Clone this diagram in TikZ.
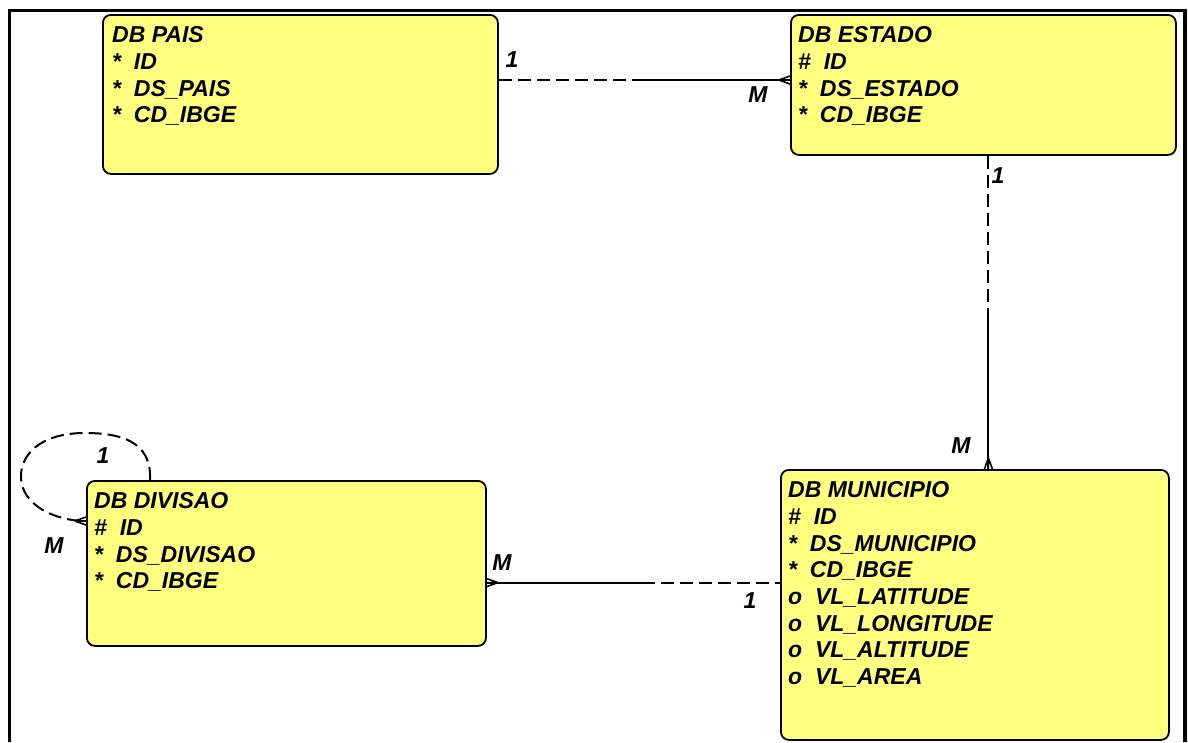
\documentclass[tikz,border=0pt]{standalone}
\usepackage{fontspec}
\setmainfont{Liberation Sans}
\usetikzlibrary{positioning}
\definecolor{entyellow}{RGB}{255,255,128}
\newcommand\entfield[2]{#1\ \ #2}
\tikzset{crow/.pic={\draw[line width=1.6pt] (11,0) -- (0,4) (11,0) -- (0,0) (11,0) -- (0,-4);}}

\begin{document}
\begin{tikzpicture}
[x=1pt, y=-1pt,
every node/.style={inner sep=0pt, font=\fontsize{23}{26.7}\selectfont\bfseries\itshape},
entity/.style={draw, line width=1.8pt, fill=entyellow, rounded corners=8pt, anchor=north west},
fields/.style={anchor=north west, align=left},
card/.style={anchor=center},
rel/.style={line width=2pt},
opt/.style={rel, dash pattern=on 13pt off 6pt}]

\useasboundingbox (0,0) rectangle (1188,742);
\draw[line width=3.5pt] (9.5,742) -- (9.5,10.5) -- (1185,10.5) -- (1185,742);

% entities
\node[entity, minimum width=395pt, minimum height=159pt] (pais) at (102,14) {};
\node[entity, minimum width=385pt, minimum height=140pt] (estado) at (790,14) {};
\node[entity, minimum width=399pt, minimum height=165pt] (div) at (86,480) {};
\node[entity, minimum width=388pt, minimum height=270pt] (mun) at (780,469) {};

\node[fields] at ([xshift=10pt, yshift=-12.5pt]pais.north west)
  {DB PAIS\\ \entfield{*}{ID}\\ \entfield{*}{DS\_PAIS}\\ \entfield{*}{CD\_IBGE}};
\node[fields] at ([xshift=8pt, yshift=-12.5pt]estado.north west)
  {DB ESTADO\\ \entfield{\#}{ID}\\ \entfield{*}{DS\_ESTADO}\\ \entfield{*}{CD\_IBGE}};
\node[fields] at ([xshift=8pt, yshift=-12.5pt]div.north west)
  {DB DIVISAO\\ \entfield{\#}{ID}\\ \entfield{*}{DS\_DIVISAO}\\ \entfield{*}{CD\_IBGE}};
\node[fields] at ([xshift=8pt, yshift=-12.5pt]mun.north west)
  {DB MUNICIPIO\\ \entfield{\#}{ID}\\ \entfield{*}{DS\_MUNICIPIO}\\ \entfield{*}{CD\_IBGE}\\
   \entfield{o}{VL\_LATITUDE}\\ \entfield{o}{VL\_LONGITUDE}\\ \entfield{o}{VL\_ALTITUDE}\\ \entfield{o}{VL\_AREA}};

% pais - estado
\path ([yshift=-66pt]pais.north east) coordinate (p1) ++(145,0) coordinate (m1);
\draw[opt] (p1) -- (m1);
\draw[rel] (m1) -- (p1 -| estado.west);
\pic[rotate=180] at (p1 -| estado.west) {crow};

% estado - municipio
\path ([xshift=5pt]estado.south) coordinate (e1) ++(0,156) coordinate (m2);
\draw[opt] (e1) -- (m2);
\draw[rel] (m2) -- (e1 |- mun.north);
\pic[rotate=90] at (e1 |- mun.north) {crow};

% divisao - municipio
\path ([yshift=-102.6pt]div.north east) coordinate (d1) ++(155,0) coordinate (m3);
\draw[rel] (d1) -- (m3);
\draw[opt] (m3) -- (d1 -| mun.west);
\pic at (d1) {crow};

% divisao - divisao
\draw[opt] ([xshift=64pt]div.north west) .. controls +(2,-39) and +(35,0) .. (85,433)
  .. controls +(-45,0) and +(-1,-23) .. (21,478)
  .. controls +(1,27) and +(-31,0) .. ([yshift=-41pt]div.north west);
\pic[rotate=180] at ([yshift=-41pt]div.north west) {crow};

\node[card] (c1) at (512,60) {1};
\node[card] (c2) at (758,95) {M};
\node[card] (c3) at (998,176) {1};
\node[card] (c4) at (961,446) {M};
\node[card] (c5) at (502,563) {M};
\node[card] (c6) at (750,601) {1};
\node[card] (c7) at (103,456) {1};
\node[card] (c8) at (54,546) {M};
\end{tikzpicture}
\end{document}
